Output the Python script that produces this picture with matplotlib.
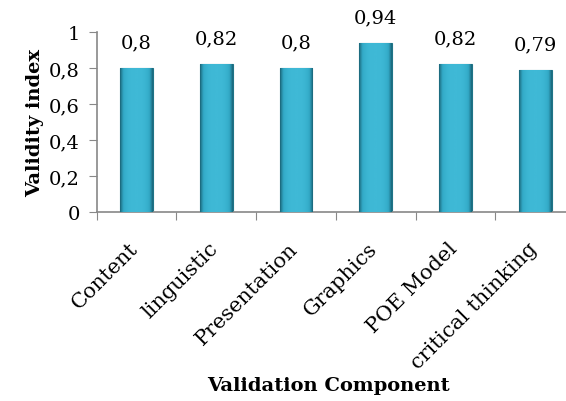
import numpy as np
import matplotlib.pyplot as plt
from matplotlib.ticker import FuncFormatter
from matplotlib.colors import LinearSegmentedColormap
from matplotlib.transforms import ScaledTranslation

# data
categories = ['Content', 'linguistic', 'Presentation', 'Graphics', 'POE Model', 'critical thinking']
values = [0.8, 0.82, 0.8, 0.94, 0.82, 0.79]
labels = ['0,8', '0,82', '0,8', '0,94', '0,82', '0,79']

plt.rcParams['font.family'] = ['DejaVu Serif']

fig = plt.figure(figsize=(5.66, 4.02), dpi=100)
ax = fig.add_axes([0.171, 0.470, 0.845, 0.448])

x = list(range(len(categories)))
bars = ax.bar(x, values, width=0.41, color='#34abc8', edgecolor='#1f7487', linewidth=0.8, zorder=2)

# horizontal shading to mimic the cylinder look
g = np.linspace(-1, 1, 64)
shade = 1 - np.abs(g) ** 3
grad = np.tile(shade, (2, 1))
cmap = LinearSegmentedColormap.from_list('c', ['#1a6679', '#32a9c6', '#3fb9d6'])
for b in bars:
    x0 = b.get_x()
    w = b.get_width()
    h = b.get_height()
    im = ax.imshow(grad, extent=[x0, x0 + w, 0, h], aspect='auto', cmap=cmap,
                   vmin=0, vmax=1, zorder=3, origin='lower')
    im.set_clip_path(b)

for b, lab in zip(bars, labels):
    ax.annotate(lab, (b.get_x() + b.get_width() / 2, b.get_height()),
                xytext=(0, 12), textcoords='offset points',
                ha='center', va='bottom', fontsize=14)

ax.set_xlim(-0.5, len(categories) - 0.5)
ax.set_ylim(0, 1)
ax.set_yticks([0, 0.2, 0.4, 0.6, 0.8, 1.0])
ax.yaxis.set_major_formatter(FuncFormatter(lambda v, p: ('%g' % round(v, 1)).replace('.', ',')))

ax.set_xticks([i - 0.5 for i in x], minor=False)
ax.set_xticklabels([])
ax.set_xticks(x, minor=True)
ax.set_xticklabels(categories, minor=True, rotation=45, ha='right', rotation_mode='anchor', fontsize=15)
ax.tick_params(axis='x', which='minor', length=0, pad=17)
ax.tick_params(axis='x', which='major', length=6, color='#888888', direction='out')
ax.tick_params(axis='y', length=6, color='#888888', labelsize=14, pad=6)
shift = ScaledTranslation(-0.08, -0.03, fig.dpi_scale_trans)
for t in ax.get_xticklabels(minor=True):
    t.set_transform(t.get_transform() + shift)

for s in ['top', 'right']:
    ax.spines[s].set_visible(False)
for s in ['left', 'bottom']:
    ax.spines[s].set_color('#888888')
    ax.spines[s].set_linewidth(1.2)

ax.set_ylabel('Validity index', fontsize=14, fontweight='bold', labelpad=4)
fig.text(0.58, 0.04, 'Validation Component', ha='center', va='center', fontsize=14, fontweight='bold')

plt.savefig('out.png', dpi=100)
